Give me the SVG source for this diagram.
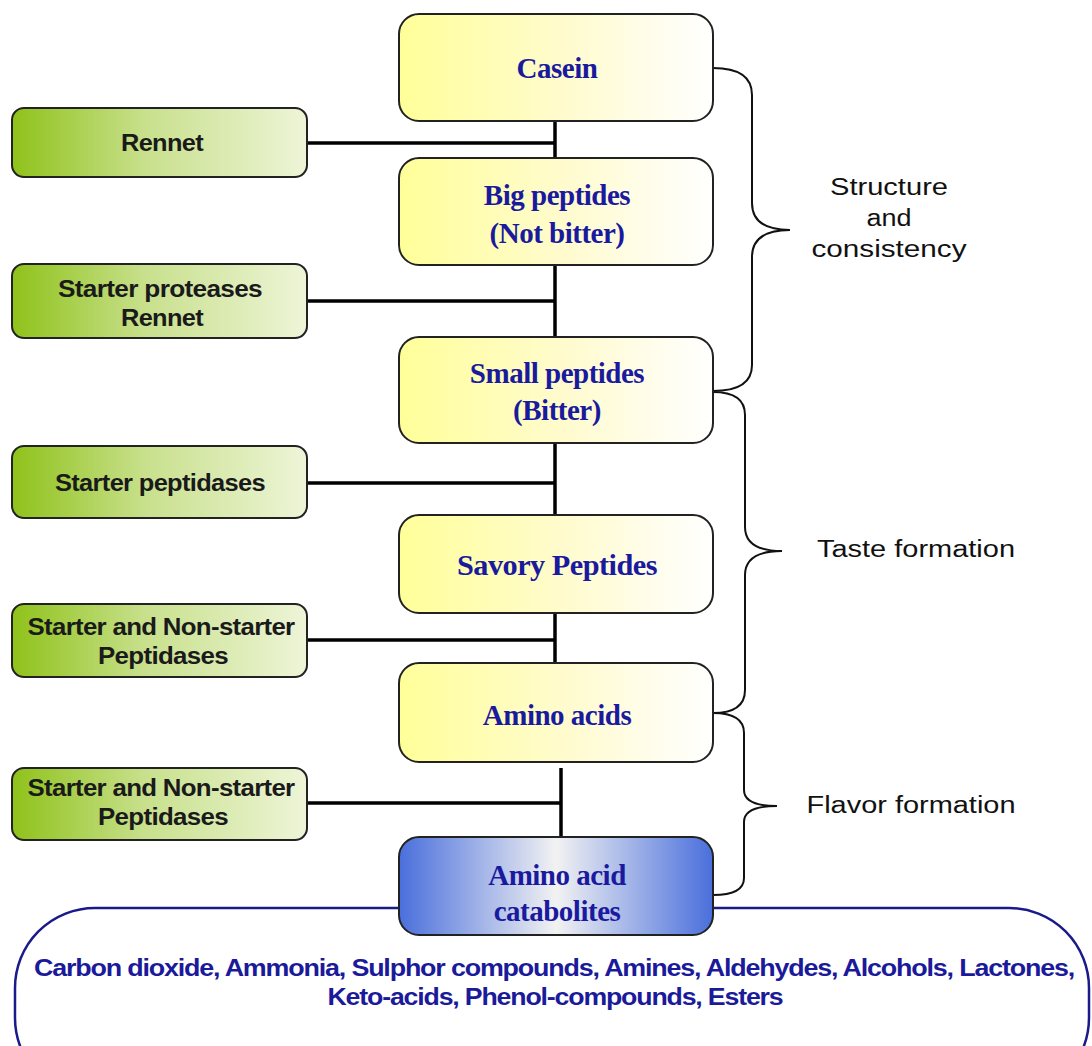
<svg xmlns="http://www.w3.org/2000/svg" width="1092" height="1046" viewBox="0 0 1092 1046">
<defs>
<linearGradient id="gy" x1="0" y1="0" x2="1" y2="0"><stop offset="0" stop-color="#ffff99"/><stop offset="0.55" stop-color="#fffbd0"/><stop offset="1" stop-color="#ffffff"/></linearGradient>
<linearGradient id="gg" x1="0" y1="0" x2="1" y2="0"><stop offset="0" stop-color="#8fc21a"/><stop offset="0.45" stop-color="#c8e08c"/><stop offset="1" stop-color="#eef5d8"/></linearGradient>
<linearGradient id="gb" x1="0" y1="0" x2="1" y2="0"><stop offset="0" stop-color="#4a6fdc"/><stop offset="0.5" stop-color="#f2f2f2"/><stop offset="1" stop-color="#4a6fdc"/></linearGradient>
<style>
.yb{stroke:#222;stroke-width:2;fill:url(#gy)}
.gb{stroke:#222;stroke-width:2;fill:url(#gg)}
.bb{stroke:#222;stroke-width:2;fill:url(#gb)}
.yt{font-family:"Liberation Serif","Times New Roman",serif;font-weight:bold;font-size:29px;fill:#1a1a9e;text-anchor:middle;letter-spacing:-0.5px}
.gt{font-family:"Liberation Sans",Arial,sans-serif;font-weight:bold;font-size:23px;fill:#1a1a1a;text-anchor:middle;letter-spacing:-0.6px}
.lt{font-family:"Liberation Sans",Arial,sans-serif;font-size:23px;fill:#111;text-anchor:middle}
.ot{font-family:"Liberation Sans",Arial,sans-serif;font-weight:bold;font-size:23px;fill:#1a1a9a;text-anchor:middle;letter-spacing:-1px}
.ln{stroke:#000;stroke-width:3.5;fill:none}
.br{stroke:#111;stroke-width:2;fill:none}
</style>
</defs>
<rect width="1092" height="1046" fill="#fff"/>
<g id="products">
<rect x="15" y="908" width="1074" height="190" rx="80" ry="80" fill="none" stroke="#1a1a8a" stroke-width="2.5"/>
<text class="ot" x="554" y="976" textLength="1040" lengthAdjust="spacingAndGlyphs">Carbon dioxide,  Ammonia, Sulphor compounds, Amines,  Aldehydes, Alcohols, Lactones,</text>
<text class="ot" x="555" y="1005" textLength="455" lengthAdjust="spacingAndGlyphs">Keto-acids, Phenol-compounds, Esters</text>
</g>
<g id="connectors">
<line class="ln" x1="555" y1="121" x2="555" y2="158"/>
<line class="ln" x1="555" y1="265" x2="555" y2="337"/>
<line class="ln" x1="555" y1="443" x2="555" y2="515"/>
<line class="ln" x1="555" y1="613" x2="555" y2="663"/>
<line class="ln" x1="561" y1="768" x2="561" y2="837"/>
<line class="ln" x1="307" y1="143" x2="555" y2="143"/>
<line class="ln" x1="307" y1="301" x2="555" y2="301"/>
<line class="ln" x1="307" y1="483" x2="555" y2="483"/>
<line class="ln" x1="307" y1="640" x2="555" y2="640"/>
<line class="ln" x1="307" y1="803" x2="561" y2="803"/>
<path class="br" d="M713 68 Q752 68 752 95 L752 203 Q752 230 790 230 Q752 230 752 257 L752 365 Q752 391 713 391"/>
<path class="br" d="M713 392 Q745 392 745 415 L745 527 Q745 551 782 551 Q745 551 745 575 L745 690 Q745 713 713 713"/>
<path class="br" d="M713 713 Q744 713 744 733 L744 790 Q744 806 777 806 Q744 806 744 822 L744 878 Q744 895 713 895"/>
</g>
<g id="casein"><rect class="yb" x="399" y="14" width="314" height="107" rx="20"/><text class="yt" x="557" y="78">Casein</text></g>
<g id="big-peptides"><rect class="yb" x="399" y="158" width="314" height="107" rx="20"/><text class="yt" x="557" y="205">Big peptides</text><text class="yt" x="557" y="243">(Not bitter)</text></g>
<g id="small-peptides"><rect class="yb" x="399" y="337" width="314" height="106" rx="20"/><text class="yt" x="557" y="383">Small peptides</text><text class="yt" x="557" y="420">(Bitter)</text></g>
<g id="savory-peptides"><rect class="yb" x="399" y="515" width="314" height="98" rx="20"/><text class="yt" x="557" y="575" textLength="200" lengthAdjust="spacingAndGlyphs">Savory Peptides</text></g>
<g id="amino-acids"><rect class="yb" x="399" y="663" width="314" height="99" rx="20"/><text class="yt" x="557" y="725">Amino acids</text></g>
<g id="catabolites"><rect class="bb" x="399" y="837" width="314" height="98" rx="20"/><text class="yt" x="557" y="885">Amino acid</text><text class="yt" x="557" y="921">catabolites</text></g>
<g id="rennet"><rect class="gb" x="12" y="108" width="295" height="69" rx="12"/><text class="gt" x="162" y="151" textLength="82" lengthAdjust="spacingAndGlyphs">Rennet</text></g>
<g id="starter-proteases"><rect class="gb" x="12" y="264" width="295" height="74" rx="12"/><text class="gt" x="160" y="297" textLength="204" lengthAdjust="spacingAndGlyphs">Starter proteases</text><text class="gt" x="162" y="326" textLength="82" lengthAdjust="spacingAndGlyphs">Rennet</text></g>
<g id="starter-peptidases"><rect class="gb" x="12" y="446" width="295" height="72" rx="12"/><text class="gt" x="160" y="491" textLength="210" lengthAdjust="spacingAndGlyphs">Starter peptidases</text></g>
<g id="sns-peptidases-1"><rect class="gb" x="12" y="604" width="295" height="73" rx="12"/><text class="gt" x="161" y="635" textLength="267" lengthAdjust="spacingAndGlyphs">Starter and Non-starter</text><text class="gt" x="163" y="664" textLength="130" lengthAdjust="spacingAndGlyphs">Peptidases</text></g>
<g id="sns-peptidases-2"><rect class="gb" x="12" y="768" width="295" height="72" rx="12"/><text class="gt" x="161" y="796" textLength="267" lengthAdjust="spacingAndGlyphs">Starter and Non-starter</text><text class="gt" x="163" y="825" textLength="130" lengthAdjust="spacingAndGlyphs">Peptidases</text></g>
<g id="labels">
<text class="lt" x="889" y="195" textLength="118" lengthAdjust="spacingAndGlyphs">Structure</text>
<text class="lt" x="889" y="226" textLength="45" lengthAdjust="spacingAndGlyphs">and</text>
<text class="lt" x="889" y="257" textLength="155" lengthAdjust="spacingAndGlyphs">consistency</text>
<text class="lt" x="916" y="557" textLength="198" lengthAdjust="spacingAndGlyphs">Taste formation</text>
<text class="lt" x="911" y="813" textLength="209" lengthAdjust="spacingAndGlyphs">Flavor formation</text>
</g>
</svg>
